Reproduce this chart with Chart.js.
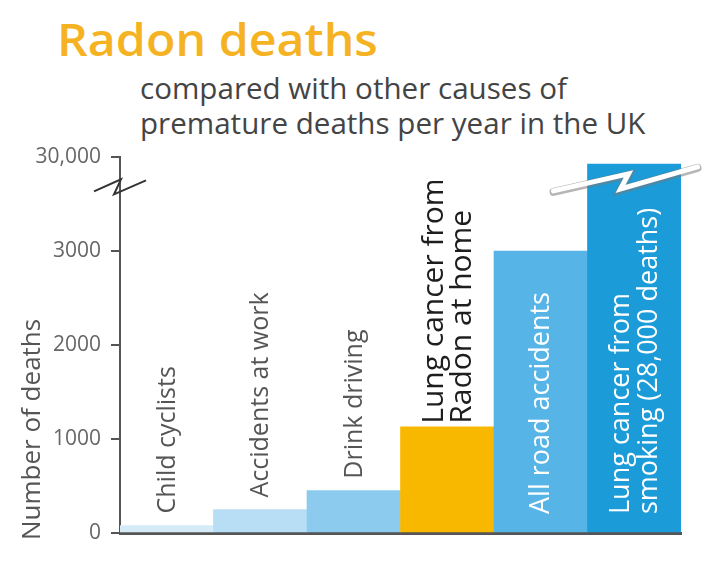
<!DOCTYPE html>
<html>
<head>
<meta charset="utf-8">
<title>Radon deaths</title>
<script src="https://cdn.jsdelivr.net/npm/chart.js@4.4.1/dist/chart.umd.min.js"></script>
<style>
    body { margin: 0; background: #fff; }
    #wrap { position: relative; width: 727px; height: 578px; overflow: hidden; }
    #title { position: absolute; left: 57px; top: 15px; font: 600 46px/1 'Open Sans', sans-serif; color: #f5b324; white-space: nowrap; transform-origin: left top; transform: scaleX(1.05); }
    .sub { position: absolute; left: 140px; font: 29px/1 'Open Sans', sans-serif; color: #444; white-space: nowrap; transform-origin: left top; transform: scaleX(1.02); }
    #chart { position: absolute; left: 0; top: 0; }
</style>
</head>
<body>
<div id="wrap">
    <div id="title">Radon deaths</div>
    <div class="sub" style="top:73px">compared with other causes of</div>
    <div class="sub" style="top:108px">premature deaths per year in the UK</div>
    <canvas id="chart" width="727" height="578"></canvas>
</div>
<script>
// data
const categories = ['Child cyclists', 'Accidents at work', 'Drink driving', 'Lung cancer from Radon at home', 'All road accidents', 'Lung cancer from smoking (28,000 deaths)'];
const deaths = [80, 250, 450, 1130, 3000, 28000];
const tickValues = [0, 1000, 2000, 3000, 4000];
const tickLabels = ['0', '1000', '2000', '3000', '30,000'];
const barLabels = [['Child cyclists'], ['Accidents at work'], ['Drink driving'], ['Lung cancer from', 'Radon at home'], ['All road accidents'], ['Lung cancer from', 'smoking (28,000 deaths)']];

const barColours = ['#d5ebf8', '#b7def5', '#8dcbee', '#f9b800', '#57b4e6', '#1b9bd7'];
const labelColours = ['#555', '#555', '#555', '#1e1e1e', '#fff', '#fff'];
const labelFonts = ['25px', '25px', '25px', '500 30px', '500 27px', '500 27px'];
const labelInside = [false, false, false, false, true, true];
const labelGap = [12, 12, 12, 3, 0, 0];

// axis is broken above 3000: the last 1000 units stand for 3000..30,000
const BREAK = 3000;
const toAxis = v => v <= BREAK ? v : BREAK + (v - BREAK) * 1000 / 27000;

const decor = {
    id: 'decor',
    afterDraw(chart) {
        const ctx = chart.ctx;
        const y = chart.scales.y;
        const meta = chart.getDatasetMeta(0);
        const base = y.getPixelForValue(0);

        // labels on / above the bars
        ctx.save();
        ctx.textBaseline = 'middle';
        ctx.textAlign = 'left';
        for (let i = 0; i < meta.data.length; i++) {
            const bar = meta.data[i];
            const lines = barLabels[i];
            const bottom = labelInside[i] ? base - 19 : bar.y - labelGap[i];
            ctx.fillStyle = labelColours[i];
            ctx.font = labelFonts[i] + ' "Open Sans", sans-serif';
            for (let j = 0; j < lines.length; j++) {
                const x = bar.x + 1 + (j - (lines.length - 1) / 2) * 28;
                ctx.save();
                ctx.translate(x, bottom);
                ctx.rotate(-Math.PI / 2);
                ctx.fillText(lines[j], 0, 0);
                ctx.restore();
            }
        }
        ctx.restore();

        // axis title
        ctx.save();
        ctx.fillStyle = '#555';
        ctx.font = '26px "Open Sans", sans-serif';
        ctx.textBaseline = 'middle';
        ctx.translate(33, base + 7);
        ctx.rotate(-Math.PI / 2);
        ctx.fillText('Number of deaths', 0, 0);
        ctx.restore();

        // break mark on the y axis
        const ax = y.right;
        const yb = y.getPixelForValue(3720);
        ctx.save();
        ctx.strokeStyle = '#333';
        ctx.lineWidth = 2;
        ctx.beginPath();
        ctx.moveTo(ax - 26, yb + 8);
        ctx.lineTo(ax + 1, yb - 4);
        ctx.lineTo(ax - 6, yb + 11);
        ctx.lineTo(ax + 26, yb - 3);
        ctx.stroke();
        ctx.restore();

        // lightning break across the tall bar
        const last = meta.data[meta.data.length - 1];
        const left = last.x - last.width / 2;
        const pts = [
            [left - 34, y.getPixelForValue(3640)],
            [left + 41, y.getPixelForValue(3820)],
            [left + 33, y.getPixelForValue(3660)],
            [left + 110, y.getPixelForValue(3895)]
        ];
        ctx.save();
        ctx.lineCap = 'round';
        ctx.beginPath();
        pts.forEach((p, k) => k ? ctx.lineTo(p[0], p[1] + 1) : ctx.moveTo(p[0], p[1] + 1));
        ctx.strokeStyle = 'rgba(120,120,120,0.55)';
        ctx.lineWidth = 8;
        ctx.stroke();
        ctx.beginPath();
        pts.forEach((p, k) => k ? ctx.lineTo(p[0], p[1]) : ctx.moveTo(p[0], p[1]));
        ctx.strokeStyle = '#fff';
        ctx.lineWidth = 5;
        ctx.stroke();
        ctx.restore();
    }
};

new Chart(document.getElementById('chart'), {
    type: 'bar',
    data: {
        labels: categories,
        datasets: [{
            data: deaths.map(toAxis),
            backgroundColor: barColours,
            borderWidth: 0,
            categoryPercentage: 1,
            barPercentage: 1
        }]
    },
    options: {
        responsive: false,
        animation: false,
        layout: { padding: { top: 157, right: 46, bottom: 45, left: 0 } },
        plugins: { legend: { display: false }, tooltip: { enabled: false } },
        scales: {
            x: {
                z: 1,
                grid: { display: false, drawTicks: false },
                ticks: { display: false },
                border: { display: true, color: '#555', width: 3 },
                afterFit: s => { s.height = 0; }
            },
            y: {
                min: 0,
                max: 4000,
                afterFit: s => { s.width = 120; },
                afterBuildTicks: s => { s.ticks = tickValues.map(v => ({ value: v })); },
                grid: { drawOnChartArea: false, drawTicks: true, tickLength: 9, color: '#555', lineWidth: 2 },
                border: { display: true, color: '#555', width: 2 },
                ticks: {
                    padding: 10,
                    color: '#666',
                    font: { family: 'Open Sans', size: 21 },
                    callback: v => tickLabels[tickValues.indexOf(v)]
                }
            }
        }
    },
    plugins: [decor]
});
</script>
</body>
</html>
